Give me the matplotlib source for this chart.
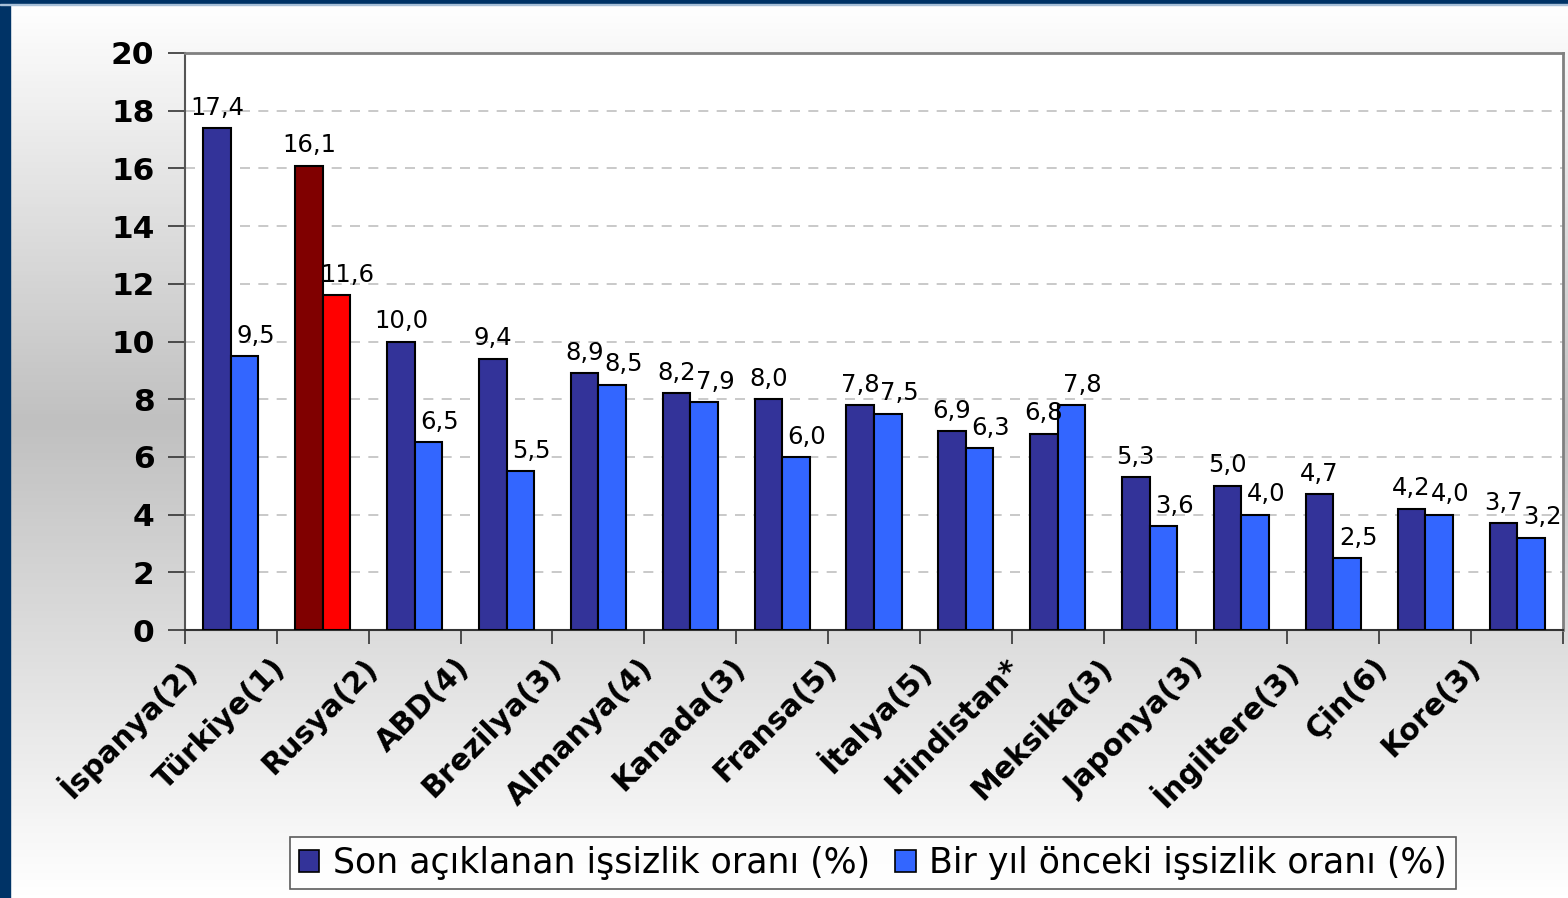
import matplotlib
matplotlib.use("Agg")
import matplotlib.pyplot as plt
import matplotlib.transforms as mtransforms
from matplotlib.patches import Rectangle, Patch
from matplotlib.colors import LinearSegmentedColormap
import numpy as np

plt.rcParams['font.family'] = ['DejaVu Sans']

categories = ["İspanya(2)", "Türkiye(1)", "Rusya(2)", "ABD(4)", "Brezilya(3)",
              "Almanya(4)", "Kanada(3)", "Fransa(5)", "İtalya(5)", "Hindistan*",
              "Meksika(3)", "Japonya(3)", "İngiltere(3)", "Çin(6)", "Kore(3)"]
latest = [17.4, 16.1, 10.0, 9.4, 8.9, 8.2, 8.0, 7.8, 6.9, 6.8, 5.3, 5.0, 4.7, 4.2, 3.7]
year_ago = [9.5, 11.6, 6.5, 5.5, 8.5, 7.9, 6.0, 7.5, 6.3, 7.8, 3.6, 4.0, 2.5, 4.0, 3.2]
series_names = ["Son açıklanan işsizlik oranı (%)", "Bir yıl önceki işsizlik oranı (%)"]
highlight = "Türkiye(1)"

c_dark = "#333399"
c_light = "#3366FF"
c_hdark = "#800000"
c_hlight = "#FF0000"

W, H = 1568, 898
fig = plt.figure(figsize=(W / 100, H / 100), dpi=100)

# background gradient
bg = fig.add_axes([0, 0, 1, 1], zorder=-10)
cmap = LinearSegmentedColormap.from_list("bg", [(0, "#ffffff"), (0.47, "#c0c0c0"), (1.0, "#ffffff")])
grad = np.linspace(0, 1, 400).reshape(-1, 1)
bg.imshow(grad, aspect="auto", cmap=cmap, extent=[0, 1, 0, 1], origin="upper")
bg.set_axis_off()

# borders
fig.patches.append(Rectangle((0, 0), 10 / W, 1, transform=fig.transFigure, color="#003366", zorder=5))
fig.patches.append(Rectangle((0, 1 - 4 / H), 1, 4 / H, transform=fig.transFigure, color="#003366", zorder=5))
fig.patches.append(Rectangle((0, 1 - 5 / H), 1, 1 / H, transform=fig.transFigure, color="#a8c0d8", zorder=5))

ax = fig.add_axes([185 / W, 1 - 630 / H, (1563 - 185) / W, (630 - 53) / H])
ax.set_facecolor("white")

x = np.arange(len(categories))
bw = 0.30
dark_cols = [c_hdark if c == highlight else c_dark for c in categories]
light_cols = [c_hlight if c == highlight else c_light for c in categories]
ax.bar(x - bw / 2, latest, bw, color=dark_cols, edgecolor="black", linewidth=1.5, zorder=3)
ax.bar(x + bw / 2, year_ago, bw, color=light_cols, edgecolor="black", linewidth=1.5, zorder=3)

def fmt(v):
    return f"{v:.1f}".replace(".", ",")

for xi, v in zip(x, latest):
    ax.annotate(fmt(v), (xi - bw / 2, v), xytext=(0, 6), textcoords="offset points",
                ha="center", va="bottom", fontsize=17.5, zorder=4)
for xi, v in zip(x, year_ago):
    ax.annotate(fmt(v), (xi + bw / 2, v), xytext=(8, 6), textcoords="offset points",
                ha="center", va="bottom", fontsize=17.5, zorder=4)

ax.set_xlim(-0.5, len(categories) - 0.5)
ax.set_ylim(0, 20)
ax.set_yticks(np.arange(0, 21, 2))
ax.set_yticklabels([str(v) for v in range(0, 21, 2)], fontsize=22.5, fontweight="bold")
ax.tick_params(axis="y", direction="out", length=12, width=1.2, color="#333333", pad=10)

ax.set_xticks(np.arange(-0.5, len(categories), 1.0))
ax.set_xticklabels([])
ax.tick_params(axis="x", direction="out", length=10, width=1.2, color="#333333")

for yv in range(2, 20, 2):
    ax.axhline(yv, color="#c0c0c0", linewidth=1.2, linestyle=(0, (6, 5)), zorder=1)

for s in ["top", "right"]:
    ax.spines[s].set_color("#808080")
    ax.spines[s].set_linewidth(2)
ax.spines["left"].set_color("#555555")
ax.spines["left"].set_linewidth(1.5)
ax.spines["bottom"].set_color("#333333")
ax.spines["bottom"].set_linewidth(1.5)

# category labels
offset = mtransforms.ScaledTranslation(-52 / 100, -23 / 100, fig.dpi_scale_trans)
for xi, lab in zip(x, categories):
    ax.text(xi, 0, lab, transform=ax.transData + offset, rotation=45, rotation_mode="anchor",
            ha="right", va="top", fontsize=21.5, fontweight="bold", clip_on=False)

handles = [Patch(facecolor=c_dark, edgecolor="black", linewidth=1.2),
           Patch(facecolor=c_light, edgecolor="black", linewidth=1.2)]
leg = fig.legend(handles, series_names, loc="center", bbox_to_anchor=(873 / W, 1 - 863 / H),
                 ncol=2, fontsize=25, frameon=True, fancybox=False, edgecolor="#333333",
                 handlelength=0.6, handleheight=0.6, handletextpad=0.4, columnspacing=0.7,
                 borderpad=0.25)
leg.get_frame().set_linewidth(1.2)
leg.get_frame().set_facecolor("white")

fig.savefig("out.png", dpi=100)
